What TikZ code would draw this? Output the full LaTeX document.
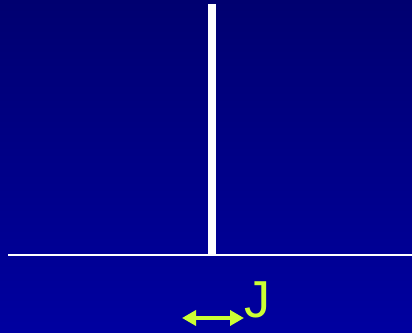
\documentclass[tikz,border=0pt]{standalone}
\usepackage{fontspec}
\setmainfont{Liberation Sans}
\usepackage{tikz}
\usetikzlibrary{arrows.meta}
\definecolor{navytop}{RGB}{0,0,112}
\definecolor{navybot}{RGB}{0,0,160}
\definecolor{limey}{RGB}{204,255,51}
\begin{document}
\begin{tikzpicture}[x=1pt,y=1pt]
\useasboundingbox (0,0) rectangle (412,332);
% background:
\path[top color=navytop,bottom color=navybot] (0,0) rectangle (412,332);
% objects:
\path[fill=white] (208,77) rectangle (216,328);
\path[draw=white,line width=2pt] (8,77) -- (412,77);
\coordinate (left) at (182,14);
\coordinate (right) at (244,14);
\path[draw=limey,line width=4pt,{Triangle[width=15pt,length=14pt]}-{Triangle[width=15pt,length=14pt]}] (left) -- (right);
\node[anchor=base west,inner sep=0pt,text=limey,font=\fontsize{52}{52}\selectfont] (jlabel) at (244,14.5) {J};
\end{tikzpicture}
\end{document}
